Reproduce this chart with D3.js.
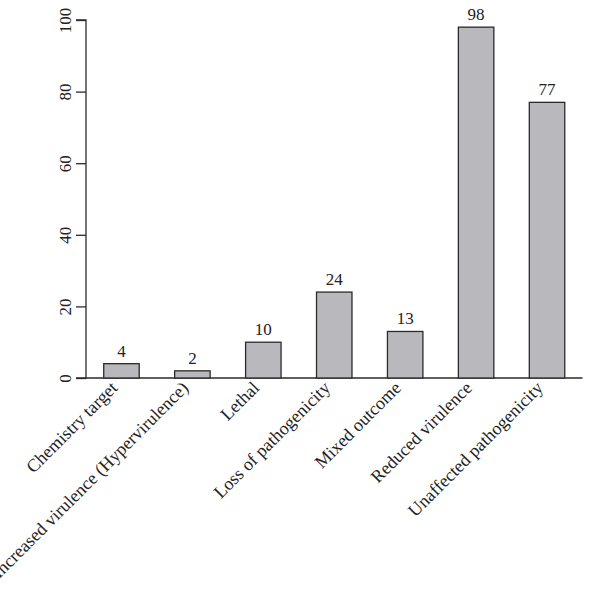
<!DOCTYPE html>
<html><head><meta charset="utf-8">
<script src="https://cdn.jsdelivr.net/npm/d3@7"></script>
<style>body{margin:0;background:#fff}text{font-family:"Liberation Serif","Times New Roman",serif;fill:#222}</style>
</head><body><svg id="c" width="602" height="592"></svg>
<script>
const categories = ["Chemistry target","Increased virulence (Hypervirulence)","Lethal","Loss of pathogenicity","Mixed outcome","Reduced virulence","Unaffected pathogenicity"];
const values = [4, 2, 10, 24, 13, 98, 77];
const yTicks = [0, 20, 40, 60, 80, 100];

const svg = d3.select("#c");
const x = d3.scaleBand().domain(categories).range([86, 582.5]).paddingInner(0.5).paddingOuter(0.25);
const y = d3.scaleLinear().domain([0, 100]).range([378, 20]);
const ink = "#2a2a2a";

// baseline
svg.append("line").attr("x1", 86).attr("x2", 582.5).attr("y1", y(0)).attr("y2", y(0))
  .attr("stroke", ink).attr("stroke-width", 1.3);

// y axis
const ya = svg.append("g").attr("transform", "translate(86,0)")
  .call(d3.axisLeft(y).tickValues(yTicks).tickSize(10).tickPadding(0).tickFormat(d3.format("d")));
ya.select(".domain").attr("stroke", ink).attr("stroke-width", 1.3).attr("d", `M-10,${y(0)}H0V${y(100)}H-10`);
ya.selectAll(".tick line").attr("stroke", ink).attr("stroke-width", 1.3);
ya.selectAll(".tick text").attr("font-size", 17).attr("fill", "#222")
  .attr("font-family", "Liberation Serif")
  .attr("text-anchor", "middle").attr("x", null).attr("dy", null)
  .attr("transform", "translate(-21,0) rotate(-90)")
  .attr("y", 0).attr("dominant-baseline", "central");

// bars
svg.selectAll("rect.bar").data(values).join("rect").attr("class", "bar")
  .attr("x", (d, i) => x(categories[i])).attr("width", x.bandwidth())
  .attr("y", d => y(d)).attr("height", d => y(0) - y(d))
  .attr("fill", "#b9b9bd").attr("stroke", ink).attr("stroke-width", 1.3);

// value labels
svg.selectAll("text.val").data(values).join("text").attr("class", "val")
  .attr("x", (d, i) => x(categories[i]) + x.bandwidth() / 2)
  .attr("y", d => y(d) - 7).attr("text-anchor", "middle").attr("font-size", 17).text(d => d);

// x labels
svg.selectAll("text.xl").data(categories).join("text").attr("class", "xl")
  .attr("transform", d => `translate(${x(d) + x.bandwidth() / 2 - 3},389) rotate(-45)`)
  .attr("text-anchor", "end").attr("font-size", 18).text(d => d);
</script></body></html>
